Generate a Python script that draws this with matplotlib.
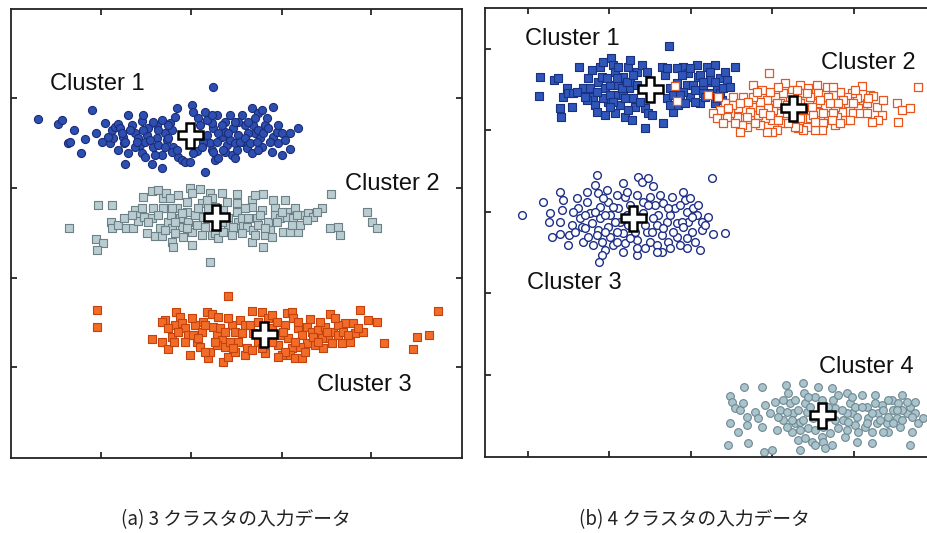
import matplotlib
matplotlib.use("Agg")
import matplotlib.pyplot as plt

plt.rcParams['font.family'] = ['Liberation Sans', 'DejaVu Sans']

# ---------------- Panel (a): 3 clusters ----------------
a1 = [(202,371),(27,339),(81,348),(47,334),(51,338),(63,328),(57,315),(59,316),(74,319),(70,305),(85,325),(94,335),(101,328),(104,331),(99,315),(107,334),(109,330),(112,321),(113,315),(107,308),(117,343),(114,294),(121,333),(124,325),(127,320),(131,337),(132,343),(129,313),(131,305),(136,323),(141,294),(142,311),(146,333),(151,338),(151,303),(151,290),(154,325),(156,318),(159,335),(161,328),(166,350),(162,311),(167,301),(171,298),(174,296),(179,296),(181,353),(182,346),(186,307),(187,340),(189,333),(194,286),(194,346),(196,323),(199,315),(202,330),(204,298),(207,300),(206,343),(211,321),(214,336),(216,313),(219,343),(222,330),(221,303),(224,300),(227,323),(231,343),(232,316),(236,310),(241,350),(242,333),(244,325),(241,305),(247,345),(251,348),(249,320),(251,311),(254,333),(261,306),(262,351),(262,321),(266,326),(271,325),(271,303),(279,309),(287,330),(157,320),(146,320),(134,316),(124,311),(201,335),(214,326),(219,318),(234,333),(227,336),(244,340),(256,340),(137,330),(114,316),(207,325),(224,315),(201,308),(147,328),(164,341),(192,316),(237,325),(247,328),(267,315),(214,306),
      (102,320),(111,325),(119,328),(126,316),(132,328),(139,318),(142,336),(147,313),(154,311),(157,333),(161,306),(166,308),(182,305),(191,311),(196,338),(201,343),(206,316),(211,333),(212,308),(217,325),(224,336),(229,316),(234,320),(237,336),(239,315),(246,316),(252,325),(257,330),(259,316),(267,333),(274,318),(279,325),(97,321),(91,316),(117,305),(134,301),(144,303),(202,306),(226,308),(247,308)]
a2 = [(58,230),(87,253),(101,253),(85,219),(92,215),(86,208),(100,236),(101,230),(107,233),(113,240),(115,230),(122,230),(124,248),(129,243),(127,237),(132,261),(136,225),(133,241),(141,267),(147,268),(142,250),(141,240),(144,222),(151,222),(152,260),(155,265),(152,250),(157,236),(160,243),(161,230),(161,216),(162,211),(166,250),(169,240),(171,231),(172,221),(176,246),(179,270),(181,265),(181,213),(181,226),(189,269),(191,255),(186,233),(197,250),(199,265),(201,260),(199,196),(201,223),(204,225),(207,220),(211,265),(212,248),(217,240),(219,226),(221,223),(226,264),(226,255),(226,246),(227,236),(229,230),(232,233),(236,231),(241,258),(241,251),(242,228),(241,216),(246,240),(247,233),(251,248),(252,264),(252,211),(257,236),(259,228),(262,258),(264,250),(264,243),(269,240),(272,226),(274,258),(277,246),(279,226),(276,241),(282,240),(284,250),(287,226),(289,233),(292,243),(297,245),(302,241),(311,250),(320,264),(319,230),(327,231),(329,223),(356,246),(361,236),(366,230),(177,236),(192,241),(217,233),(231,240),(254,223),(211,236),(164,236),(194,231),
      (121,243),(131,250),(137,236),(147,243),(149,230),(154,228),(159,260),(164,225),(167,263),(171,245),(176,230),(184,243),(187,250),(191,223),(196,258),(204,251),(212,226),(216,256),(222,231),(231,225),(234,250),(237,240),(244,223),(249,243),(254,230),(261,221),(266,236),(271,246),(281,233),(286,243),(296,238),(306,246),(161,250),(176,256),(244,263)]
a3 = [(217,162),(86,148),(86,131),(427,147),(349,148),(357,138),(366,136),(406,121),(418,123),(402,109),(373,115),(141,119),(151,116),(157,109),(154,138),(151,136),(165,146),(169,141),(164,133),(171,135),(161,121),(163,116),(174,130),(177,123),(179,103),(184,133),(186,116),(189,111),(196,146),(201,144),(207,141),(197,100),(199,106),(202,131),(206,123),(209,130),(211,118),(214,111),(212,96),(217,101),(221,133),(224,126),(227,116),(229,138),(234,133),(234,103),(236,110),(241,147),(242,125),(251,146),(254,105),(257,140),(261,143),(267,113),(271,103),(274,133),(276,145),(281,146),(282,140),(277,120),(281,110),(279,103),(284,100),(291,100),(287,130),(291,123),(296,131),(299,139),(301,126),(296,115),(304,113),(307,128),(312,110),(317,120),(314,131),(319,144),(322,126),(327,123),(331,115),(339,116),(334,135),(342,135),(344,125),(352,126),(247,116),(261,130),(224,106),(191,126),(269,123),(311,120),(327,133),(182,123),(206,113),(289,111),
      (157,130),(167,126),(174,116),(181,140),(187,120),(192,136),(194,106),(204,116),(214,126),(219,116),(222,110),(231,125),(239,133),(241,108),(247,136),(251,110),(266,136),(272,126),(274,106),(284,116),(287,136),(294,106),(302,121),(307,116),(309,136),(316,126),(321,115),(324,140),(332,126),(337,123),(347,130),(194,133),(217,140),(261,116),(267,101)]
a_centers = [(179,323),(205,241),(253,124)]
a_labels = ["Cluster 1", "Cluster 2", "Cluster 3"]
a_label_pos = [(39,374),(334,274),(306,73)]
a_ticks_x = [90,180,271,360]
a_ticks_y = [91,180,270,360]

# ---------------- Panel (b): 4 clusters ----------------
b1 = [(184,411),(55,380),(54,361),(69,377),(73,379),(75,349),(76,340),(82,369),(87,350),(78,360),(83,364),(88,364),(94,390),(98,369),(103,379),(107,387),(108,360),(110,352),(113,375),(115,390),(118,395),(120,369),(120,342),(123,355),(126,399),(128,392),(130,385),(130,344),(132,362),(133,372),(135,352),(138,380),(140,340),(143,390),(145,397),(144,369),(147,337),(148,359),(150,350),(152,385),(157,392),(160,329),(160,349),(163,344),(167,342),(177,390),(180,382),(178,334),(182,359),(185,369),(188,345),(193,352),(198,390),(203,384),(202,372),(205,360),(212,392),(213,380),(215,354),(222,390),(225,375),(227,364),(230,392),(232,369),(235,379),(242,377),(250,390),(237,357),(125,372),(138,362),(145,375),(132,379),(188,362),(198,365),(208,372),(218,369),(215,382),(192,374),(118,359),(102,357),(92,365),(225,377),(235,364),(230,354),(218,364),
      (100,360),(105,369),(112,365),(117,380),(122,379),(125,362),(128,355),(133,390),(137,369),(140,359),(142,375),(148,382),(152,372),(155,355),(162,385),(182,389),(185,352),(192,389),(195,362),(197,382),(200,354),(205,389),(210,367),(210,355),(218,375),(220,360),(225,385),(230,375),(232,359),(238,369),(240,385),(245,370),(112,345),(125,350),(143,347)]
b2 = [(284,384),(433,370),(377,371),(412,354),(417,347),(425,349),(413,335),(397,342),(393,337),(387,335),(385,362),(388,361),(378,352),(372,359),(373,349),(367,364),(362,360),(363,354),(368,344),(355,365),(358,357),(357,345),(360,337),(348,362),(350,350),(352,340),(350,332),(342,370),(343,360),(345,354),(343,342),(338,334),(337,327),(332,372),(333,364),(332,354),(333,345),(330,327),(323,369),(325,360),(327,350),(325,339),(322,330),(318,327),(315,372),(317,364),(315,339),(313,329),(310,330),(307,367),(305,360),(307,339),(308,347),(300,374),(298,364),(297,334),(295,354),(295,344),(292,327),(287,325),(282,325),(290,360),(288,347),(287,337),(282,357),(283,349),(280,339),(277,367),(275,355),(273,342),(275,332),(268,372),(268,360),(267,350),(265,337),(262,330),(257,332),(260,347),(258,360),(253,349),(252,340),(248,360),(247,352),(245,344),(242,340),(240,354),(235,347),(233,360),(228,344),(223,362),(232,339),(255,325),(328,342),(315,354),(302,352),(275,347),(265,345),(348,344),(368,354),(382,354),(190,371),(192,356),
      (238,334),(243,349),(250,334),(255,354),(263,355),(270,334),(272,365),(278,344),(285,342),(285,365),(292,354),(293,370),(302,344),(303,334),(312,357),(318,347),(322,364),(330,335),(335,357),(338,344),(347,337),(348,370),(353,354),(355,334),(365,337),(370,367),(375,344),(382,344),(383,359),(392,350),(398,357),(312,367),(293,337),(262,340)]
b3 = [(37,242),(227,279),(240,224),(228,223),(58,255),(65,244),(64,235),(67,220),(75,223),(75,265),(78,257),(77,247),(75,235),(83,212),(84,222),(87,232),(92,259),(93,249),(95,239),(97,230),(98,215),(103,220),(102,255),(105,244),(107,234),(110,272),(112,282),(113,264),(115,250),(113,227),(117,215),(120,207),(117,202),(114,195),(122,267),(123,255),(125,242),(123,230),(125,220),(128,212),(132,262),(133,249),(135,235),(138,274),(140,260),(138,224),(140,214),(138,205),(145,252),(150,225),(152,217),(152,202),(153,280),(157,275),(163,279),(168,271),(152,262),(158,255),(165,260),(162,225),(165,215),(160,209),(170,252),(173,242),(172,232),(177,222),(177,205),(178,254),(182,235),(183,215),(187,260),(190,249),(192,234),(192,220),(195,212),(198,265),(200,257),(202,245),(203,235),(207,225),(210,215),(208,249),(212,242),(217,235),(217,227),(215,207),(223,240),(115,239),(100,242),(142,242),(168,239),(185,242),(197,235),(132,225),(108,212),
      (88,245),(90,225),(100,229),(102,265),(110,245),(112,222),(118,259),(120,242),(120,225),(128,250),(130,235),(132,215),(142,265),(143,232),(145,219),(158,244),(160,232),(163,252),(167,225),(172,212),(175,262),(178,229),(183,249),(188,225),(195,252),(198,230),(202,219),(205,259),(207,240),(213,252),(220,232),(202,209),(185,209),(172,205),(152,209)]
b4 = [(259,70),(277,70),(245,61),(247,55),(250,49),(255,47),(258,54),(262,40),(245,34),(253,25),(262,32),(243,12),(263,14),(279,5),(287,7),(270,45),(273,39),(277,30),(280,52),(285,44),(292,27),(290,55),(295,47),(298,37),(301,72),(303,64),(305,54),(308,44),(310,34),(313,17),(315,7),(318,74),(319,64),(320,54),(323,29),(320,19),(327,15),(333,70),(330,60),(337,20),(338,15),(340,9),(347,69),(348,57),(350,49),(353,29),(358,37),(360,20),(362,64),(365,54),(367,44),(370,32),(372,15),(377,62),(382,50),(383,39),(387,25),(390,62),(393,44),(397,52),(402,34),(403,25),(407,57),(408,47),(412,39),(413,54),(415,30),(417,62),(422,44),(425,50),(427,25),(425,12),(430,55),(433,34),(438,39),(398,25),(392,34),(343,40),(315,35),(302,45),(380,30),(362,44),(322,45),(307,25),(370,50),(403,40),(417,47),(430,44),
      (293,40),(298,57),(302,30),(307,37),(310,57),(313,47),(315,27),(318,37),(323,60),(325,50),(328,39),(330,27),(337,57),(338,30),(343,50),(345,24),(350,37),(353,62),(357,47),(362,27),(363,35),(367,60),(372,40),(373,25),(377,50),(382,34),(387,44),(390,54),(395,37),(398,47),(403,57),(408,34),(412,47),(417,37),(422,55),(427,40),(387,14),(347,12),(330,12)]
b_centers = [(165,368),(308,349),(148,239),(337,42)]
b_labels = ["Cluster 1", "Cluster 2", "Cluster 3", "Cluster 4"]
b_label_pos = [(40,418),(336,394),(42,174),(334,90)]
b_ticks_x = [43,124,206,287,369]
b_ticks_y = [82,164,245,327,408]

captions = ["(a) 3 クラスタの入力データ", "(b) 4 クラスタの入力データ"]

W, H = 928, 533
fig = plt.figure(figsize=(W/100, H/100), dpi=100)

def px_axes(x0, y0, x1, y1):
    return fig.add_axes([x0/W, 1 - y1/H, (x1-x0)/W, (y1-y0)/H])

axa = px_axes(11, 9, 462, 458)
axb = px_axes(485, 8, 936, 457)

def scatter(ax, pts, marker, face, edge, s=26, lw=0.8, z=2):
    xs = [p[0] for p in pts]
    ys = [p[1] for p in pts]
    ax.scatter(xs, ys, s=s, marker=marker, facecolors=face, edgecolors=edge,
               linewidths=lw, zorder=z)

def centers(ax, cs):
    ax.plot([c[0] for c in cs], [c[1] for c in cs], linestyle='none', marker='P',
            markersize=18, markerfacecolor='white', markeredgecolor='black',
            markeredgewidth=1.8, zorder=10)

# panel a
scatter(axa, a1, 'o', '#2d4fb1', '#1b2c78', s=34)
scatter(axa, a2, 's', '#b8ccd1', '#6c8086', s=27)
scatter(axa, a3, 's', '#f26c28', '#c4420e', s=31)
centers(axa, a_centers)
for t, (x, y) in zip(a_labels, a_label_pos):
    axa.text(x, y, t, fontsize=17, ha='left', va='center', color='#111111')
axa.set_xlim(0, 451)
axa.set_ylim(0, 449)
axa.set_xticks(a_ticks_x)
axa.set_yticks(a_ticks_y)
axa.tick_params(direction='in', length=4, width=1.1, top=True, right=True,
                labelbottom=False, labelleft=False)

# panel b
scatter(axb, b1, 's', '#2f56b8', '#1a3080', s=33)
scatter(axb, b2, 's', 'white', '#e8561e', s=38, lw=0.9)
scatter(axb, b3, 'o', 'white', '#1e2f86', s=31, lw=1.0)
scatter(axb, b4, 'o', '#a9c4cc', '#6e8790', s=31)
centers(axb, b_centers)
for t, (x, y) in zip(b_labels, b_label_pos):
    axb.text(x, y, t, fontsize=17, ha='left', va='center', color='#111111')
axb.set_xlim(0, 451)
axb.set_ylim(0, 449)
axb.set_xticks(b_ticks_x)
axb.set_yticks(b_ticks_y)
axb.tick_params(direction='in', length=4, width=1.1, top=True, right=True,
                labelbottom=False, labelleft=False)

for ax in (axa, axb):
    for sp in ax.spines.values():
        sp.set_linewidth(1.3)
        sp.set_color('#222222')

for t, xc in zip(captions, [236, 694]):
    fig.text(xc/W, 1 - 520/H, t, ha='center', va='center', fontsize=13.5,
             family=['Noto Sans CJK JP', 'DejaVu Sans'], color='#222222')

fig.savefig('out.png', dpi=100)
